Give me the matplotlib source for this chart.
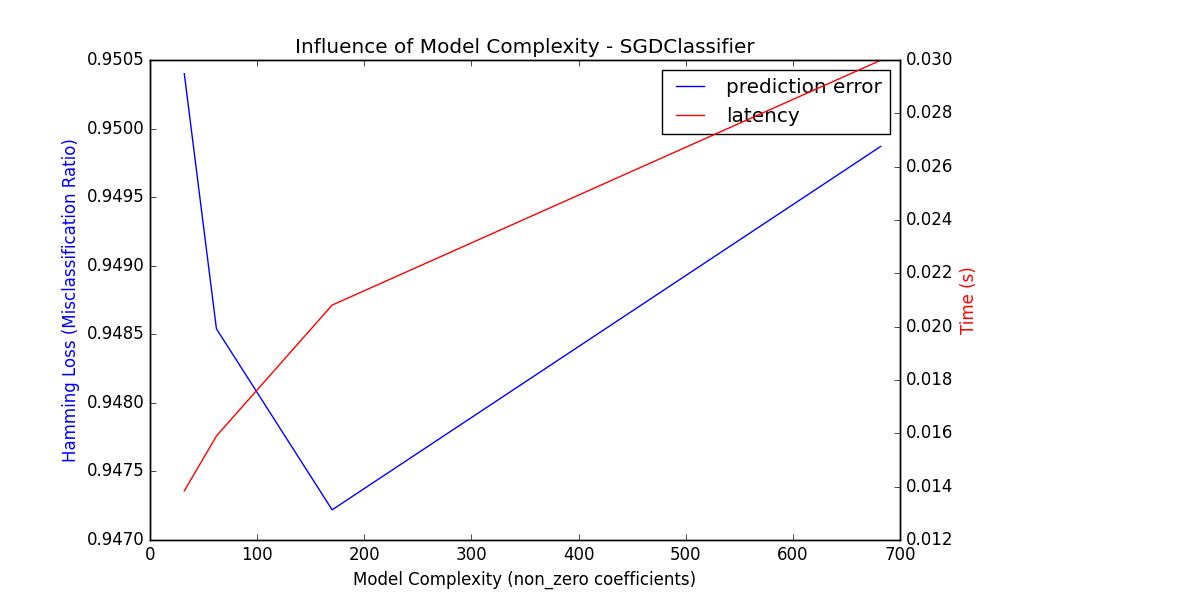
import matplotlib
matplotlib.use('Agg')
import matplotlib.pyplot as plt

plt.style.use('classic')

# Dados
complexities = [32, 62, 170, 682]
prediction_error = [0.95040, 0.94854, 0.94722, 0.94987]
latency = [0.01384, 0.01590, 0.02081, 0.02999]

fig = plt.figure(figsize=(12, 6), dpi=100, facecolor='white')
fig.subplots_adjust(right=0.75)
ax1 = fig.add_subplot(111)
line1 = ax1.plot(complexities, prediction_error, 'b-')[0]
ax1.set_xlabel('Model Complexity (non_zero coefficients)')
ax1.set_ylabel('Hamming Loss (Misclassification Ratio)', color='b')
ax1.set_ylim(0.9470, 0.9505)
ax1.set_xlim(0, 700)

ax2 = ax1.twinx()
line2 = ax2.plot(complexities, latency, 'r-')[0]
ax2.set_ylabel('Time (s)', color='r')
ax2.set_ylim(0.012, 0.030)

ax1.legend((line1, line2), ('prediction error', 'latency'), loc='upper right')
plt.title('Influence of Model Complexity - SGDClassifier')

plt.savefig('out.png', facecolor='white')
